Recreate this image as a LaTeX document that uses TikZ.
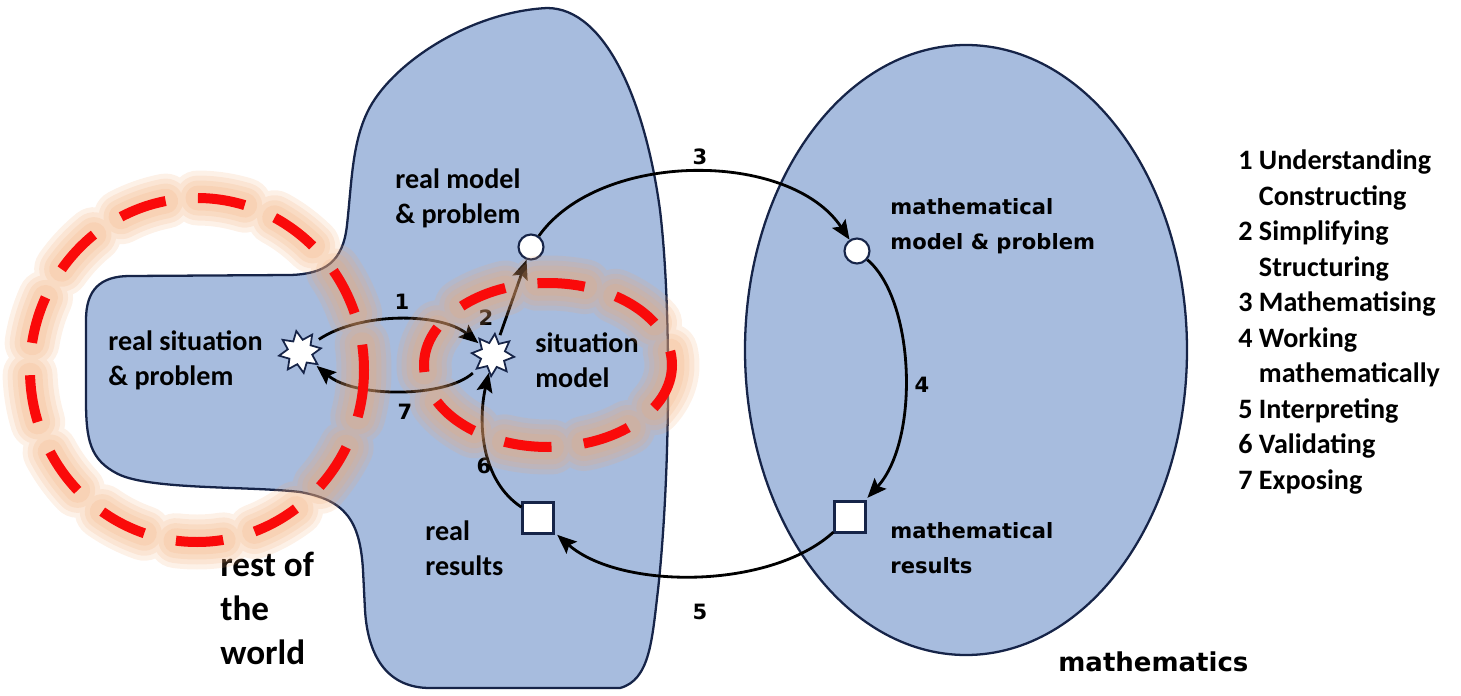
\documentclass[tikz,border=0pt]{standalone}
\usepackage{fontspec}
\setmainfont{Carlito}
\newfontfamily\verdfont{DejaVu Sans}
\usetikzlibrary{shapes.geometric, arrows.meta, positioning}
\definecolor{worldblue}{RGB}{167,188,222}
\definecolor{edgenavy}{RGB}{22,36,72}
\definecolor{ringred}{RGB}{250,10,10}
\definecolor{glowpeach}{RGB}{242,170,115}

\begin{document}
\begin{tikzpicture}[
    x=0.02cm, y=-0.02cm,
    region/.style={fill=worldblue, draw=edgenavy, line width=1.3pt},
    lbl/.style={inner sep=0pt, align=left, anchor=west, font=\fontsize{16}{19.9}\selectfont\bfseries},
    mlbl/.style={lbl, font=\verdfont\fontsize{12}{19.9}\selectfont\bfseries},
    num/.style={inner sep=0pt, font=\verdfont\fontsize{12}{14}\selectfont\bfseries},
    starnode/.style={star, star points=8, star point ratio=1.7, draw=edgenavy, fill=white, line width=1pt, minimum size=0.85cm, inner sep=0pt},
    dotnode/.style={circle, draw=edgenavy, fill=white, line width=1.2pt, minimum size=0.5cm, inner sep=0pt},
    boxnode/.style={rectangle, draw=edgenavy, fill=white, line width=1.2pt, minimum size=0.62cm, inner sep=0pt},
    arr/.style={-{Stealth[length=11pt, width=9pt, inset=2pt]}, line width=1.6pt, black},
    ringdash/.style={dash pattern=on 0.95cm off 0.65cm},
    ring/.style={ringdash, draw=ringred, line width=0.2cm},
    glow/.style={ringdash, draw=glowpeach, line cap=round, opacity=0.17}
]
\useasboundingbox (0,0) rectangle (1461,696);

% the two worlds
\path[region] (547,8) .. controls (605,8) and (645,100) .. (660,210)
  .. controls (672,310) and (670,480) .. (658,590)
  .. controls (652,640) and (650,680) .. (620,688) -- (430,688)
  .. controls (390,688) and (368,660) .. (365,610) -- (363,570)
  .. controls (360,520) and (345,500) .. (300,492)
  .. controls (250,486) and (150,490) .. (118,474)
  .. controls (90,460) and (86,440) .. (86,400) -- (86,320)
  .. controls (86,290) and (100,276) .. (130,276) -- (290,275)
  .. controls (325,274) and (343,262) .. (347,225)
  .. controls (352,180) and (352,140) .. (370,107)
  .. controls (395,62) and (470,12) .. (547,8) -- cycle;
\path[region] (966,350) ellipse [x radius=221, y radius=305];

% stations of the cycle
\node[starnode, rotate=10] (realsit) at (300,352) {};
\node[starnode, rotate=-5] (sitmodel) at (493,355) {};
\node[dotnode] (realmod) at (531,247) {};
\node[dotnode] (mathmod) at (857,251) {};
\node[boxnode] (realres) at (538,518) {};
\node[boxnode] (mathres) at (850,517) {};

% texts
\node[lbl] (realsitlbl) at (108,360) {real situation\\\& problem};
\node[lbl] (realmodlbl) at (395,198) {real model\\\& problem};
\node[lbl] (sitmodlbl) at (535,360) {situation\\model};
\node[lbl] (realreslbl) at (425,548) {real\\results};
\node[mlbl] (mathmodlbl) at (890,226) {mathematical\\model \& problem};
\node[mlbl] (mathreslbl) at (890,548) {mathematical\\results};
\node[lbl, font=\fontsize{20}{25}\selectfont\bfseries] (worldlbl) at (220,608) {rest of\\the\\world};
\node[lbl, font=\verdfont\fontsize{14.8}{18}\selectfont\bfseries] (mathslbl) at (1058,662) {mathematics};
\node[lbl, font=\fontsize{16}{20.2}\selectfont\bfseries] (legend) at (1238,322) {1 Understanding\\\phantom{1 }Constructing\\2 Simplifying\\\phantom{2 }Structuring\\3 Mathematising\\4 Working\\\phantom{4 }mathematically\\5 Interpreting\\6 Validating\\7 Exposing};

% steps
\draw[arr, shorten <=5pt, shorten >=1pt] (realsit) .. controls (360,312) and (440,312) .. (sitmodel);
\draw[arr, shorten <=3pt, shorten >=1pt] (sitmodel) .. controls (445,398) and (355,398) .. (realsit);
\draw[arr, shorten <=3pt] (sitmodel) -- (realmod);
\draw[arr] (realmod) .. controls (600,150) and (790,150) .. (mathmod);
\draw[arr, shorten >=2pt] (mathmod) .. controls (915,300) and (920,440) .. (mathres);
\draw[arr, shorten >=2pt] (mathres) .. controls (770,590) and (620,590) .. (realres);
\draw[arr] (realres) .. controls (480,480) and (478,420) .. (sitmodel);

\node[num] (n1) at (402,302) {1};
\node[num] (n2) at (486,318) {2};
\node[num] (n3) at (700,157) {3};
\node[num] (n4) at (922,385) {4};
\node[num] (n5) at (700,612) {5};
\node[num] (n6) at (484,466) {6};
\node[num] (n7) at (405,412) {7};

% red rings with a soft glow
\foreach \w in {1.1,0.9,0.7,0.5}{
  \draw[glow, line width=\w cm] (197,370) ellipse [x radius=167, y radius=172];
  \draw[glow, line width=\w cm] (548,365) ellipse [x radius=124, y radius=82];
}
\draw[ring] (197,370) ellipse [x radius=167, y radius=172];
\draw[ring] (548,365) ellipse [x radius=124, y radius=82];

\end{tikzpicture}
\end{document}
